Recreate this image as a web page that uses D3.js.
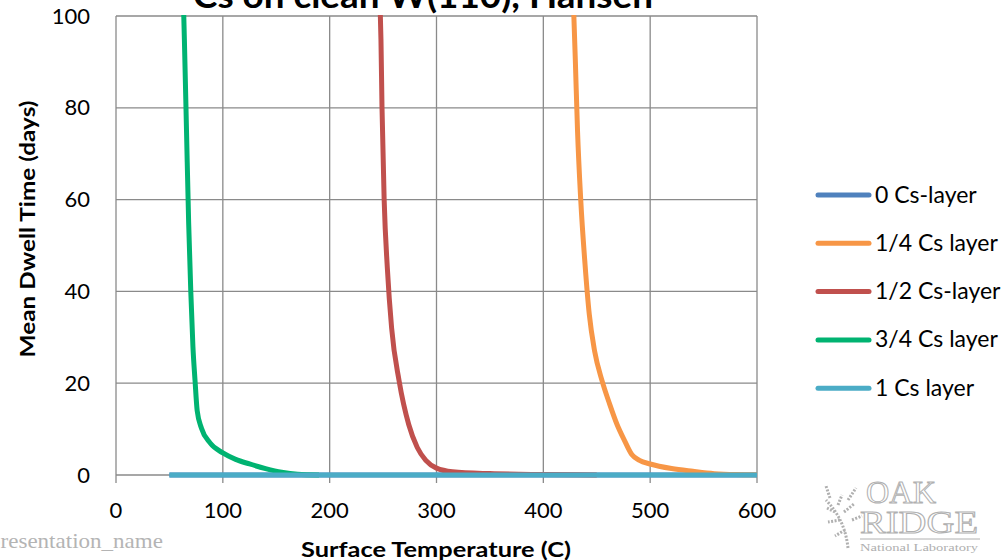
<!DOCTYPE html>
<html>
<head>
<meta charset="utf-8">
<script src="https://cdn.jsdelivr.net/npm/d3@7"></script>
<style>
  body { margin: 0; background: #fff; }
</style>
</head>
<body>
<div id="chart"></div>
<script>
// series: [temperature C, dwell time days]
var seriesNames = ["0 Cs-layer", "1/4 Cs layer", "1/2 Cs-layer", "3/4 Cs layer", "1 Cs layer"];
var seriesColors = ["#4f81bd", "#f79646", "#c0504d", "#00b371", "#4bacc6"];

var zeroLayer = [[50, 0], [100, 0], [200, 0], [300, 0], [400, 0], [500, 0], [600, 0]];
var quarterLayer = [[428, 104], [430, 90], [432, 75], [435, 60], [439, 46], [443, 35], [448, 27],
  [455, 20.5], [462, 15.5], [469, 11], [476, 7.5], [483, 4.4], [490, 3.2], [500, 2.4], [520, 1.4],
  [540, 0.8], [560, 0.3], [580, 0.1], [600, 0.05]];
var halfLayer = [[247, 104], [248, 95], [249, 80], [251, 60], [254, 45], [258, 32], [265, 20.5],
  [274, 11], [282, 6], [290, 3.2], [300, 1.5], [315, 0.7], [350, 0.3], [400, 0.1], [450, 0]];
var threeQuarterLayer = [[63, 104], [64, 95], [66, 75], [68, 55], [70, 40], [72, 28], [74, 20.5],
  [76, 14], [80, 10.2], [88, 7], [100, 4.8], [112, 3.4], [125, 2.4], [140, 1.4], [155, 0.6],
  [170, 0.15], [190, 0]];
var oneLayer = [[50, 0], [100, 0], [200, 0], [300, 0], [400, 0], [500, 0], [600, 0]];

var seriesData = [zeroLayer, quarterLayer, halfLayer, threeQuarterLayer, oneLayer];
var xTicks = [0, 100, 200, 300, 400, 500, 600];
var yTicks = [0, 20, 40, 60, 80, 100];

function drawChart() {
  var W = 1007, H = 560;
  var plotLeft = 116, plotRight = 757, plotTop = 16, plotBottom = 475;
  var sans = "Lato, 'Open Sans', sans-serif";
  var serif = "'Liberation Serif', 'DejaVu Serif', serif";

  var svg = d3.select("#chart").append("svg")
    .attr("width", W)
    .attr("height", H)
    .style("font-family", sans);

  var x = d3.scaleLinear().domain([0, 600]).range([plotLeft, plotRight]);
  var y = d3.scaleLinear().domain([0, 100]).range([plotBottom, plotTop]);

  svg.append("clipPath").attr("id", "plot")
    .append("rect")
    .attr("x", plotLeft).attr("y", plotTop - 1)
    .attr("width", plotRight - plotLeft + 4).attr("height", plotBottom - plotTop + 6);

  // gridlines
  svg.append("g")
    .selectAll("line")
    .data(yTicks)
    .join("line")
    .attr("x1", plotLeft).attr("x2", plotRight)
    .attr("y1", d => y(d)).attr("y2", d => y(d))
    .attr("stroke", "#8a8a8a").attr("stroke-width", 1.3);

  svg.append("g")
    .selectAll("line")
    .data(xTicks)
    .join("line")
    .attr("x1", d => x(d)).attr("x2", d => x(d))
    .attr("y1", plotTop).attr("y2", plotBottom + 8)
    .attr("stroke", "#8a8a8a").attr("stroke-width", 1.3);

  // tick labels
  svg.append("g")
    .selectAll("text")
    .data(yTicks)
    .join("text")
    .attr("x", 90).attr("y", d => y(d) + 7.5)
    .attr("text-anchor", "end")
    .attr("font-size", 22)
    .text(d => d);

  svg.append("g")
    .selectAll("text")
    .data(xTicks)
    .join("text")
    .attr("x", d => x(d)).attr("y", 518)
    .attr("text-anchor", "middle")
    .attr("font-size", 22)
    .text(d => d);

  // series lines
  var line = d3.line()
    .x(d => x(d[0]))
    .y(d => y(d[1]))
    .curve(d3.curveMonotoneX);

  svg.append("g")
    .attr("clip-path", "url(#plot)")
    .selectAll("path")
    .data(seriesData)
    .join("path")
    .attr("d", line)
    .attr("fill", "none")
    .attr("stroke", (d, i) => seriesColors[i])
    .attr("stroke-width", 5)
    .attr("stroke-linejoin", "round");

  // legend
  var legend = svg.append("g")
    .selectAll("g")
    .data(seriesNames)
    .join("g")
    .attr("transform", (d, i) => "translate(0," + (195 + i * 48.3) + ")");

  legend.append("line")
    .attr("x1", 818).attr("x2", 869)
    .attr("stroke", (d, i) => seriesColors[i])
    .attr("stroke-width", 5)
    .attr("stroke-linecap", "round");

  legend.append("text")
    .attr("x", 875).attr("y", 7.5)
    .attr("font-size", 23)
    .text(d => d);

  // titles
  svg.append("text")
    .attr("x", 423).attr("y", 8)
    .attr("text-anchor", "middle")
    .attr("font-size", 34)
    .attr("font-weight", "bold")
    .attr("textLength", 460)
    .attr("lengthAdjust", "spacingAndGlyphs")
    .text("Cs on clean W(110), Hansen");

  svg.append("text")
    .attr("transform", "translate(35,229) rotate(-90)")
    .attr("text-anchor", "middle")
    .attr("font-size", 20)
    .attr("font-weight", "bold")
    .attr("textLength", 257)
    .attr("lengthAdjust", "spacingAndGlyphs")
    .text("Mean Dwell Time (days)");

  svg.append("text")
    .attr("x", 436).attr("y", 557)
    .attr("text-anchor", "middle")
    .attr("font-size", 20)
    .attr("font-weight", "bold")
    .attr("textLength", 270)
    .attr("lengthAdjust", "spacingAndGlyphs")
    .text("Surface Temperature (C)");

  // slide footer and logo
  svg.append("text")
    .attr("x", -11).attr("y", 548)
    .style("font-family", serif)
    .attr("font-size", 22)
    .attr("fill", "#b4b4b4")
    .attr("textLength", 174)
    .attr("lengthAdjust", "spacingAndGlyphs")
    .text("presentation_name");

  var logo = svg.append("g").attr("fill", "none").attr("stroke", "#b0b0b0");
  logo.append("path")
    .attr("d", "M848,548 C846,530 840,515 826,500 M835,512 l-8,-4 M840,520 l-12,2 M838,505 l4,-10 M845,530 l-10,6 M830,498 l-4,-12 M844,512 l10,-8 M848,500 l8,-12 M852,520 l10,-4")
    .attr("stroke-width", 3)
    .attr("stroke-dasharray", "2,1.5");
  logo.append("text")
    .attr("x", 866).attr("y", 503)
    .style("font-family", serif)
    .attr("font-size", 32)
    .attr("stroke-width", 1)
    .attr("textLength", 70)
    .attr("lengthAdjust", "spacingAndGlyphs")
    .text("OAK");
  logo.append("text")
    .attr("x", 860).attr("y", 533)
    .style("font-family", serif)
    .attr("font-size", 32)
    .attr("stroke-width", 1)
    .attr("textLength", 118)
    .attr("lengthAdjust", "spacingAndGlyphs")
    .text("RIDGE");
  logo.append("line")
    .attr("x1", 860).attr("x2", 980)
    .attr("y1", 539).attr("y2", 539)
    .attr("stroke-width", 1);
  logo.append("text")
    .attr("x", 860).attr("y", 551)
    .style("font-family", serif)
    .attr("font-size", 10)
    .attr("fill", "#b0b0b0").attr("stroke", "none")
    .attr("textLength", 118)
    .attr("lengthAdjust", "spacingAndGlyphs")
    .text("National Laboratory");
}

drawChart();
</script>
</body>
</html>
